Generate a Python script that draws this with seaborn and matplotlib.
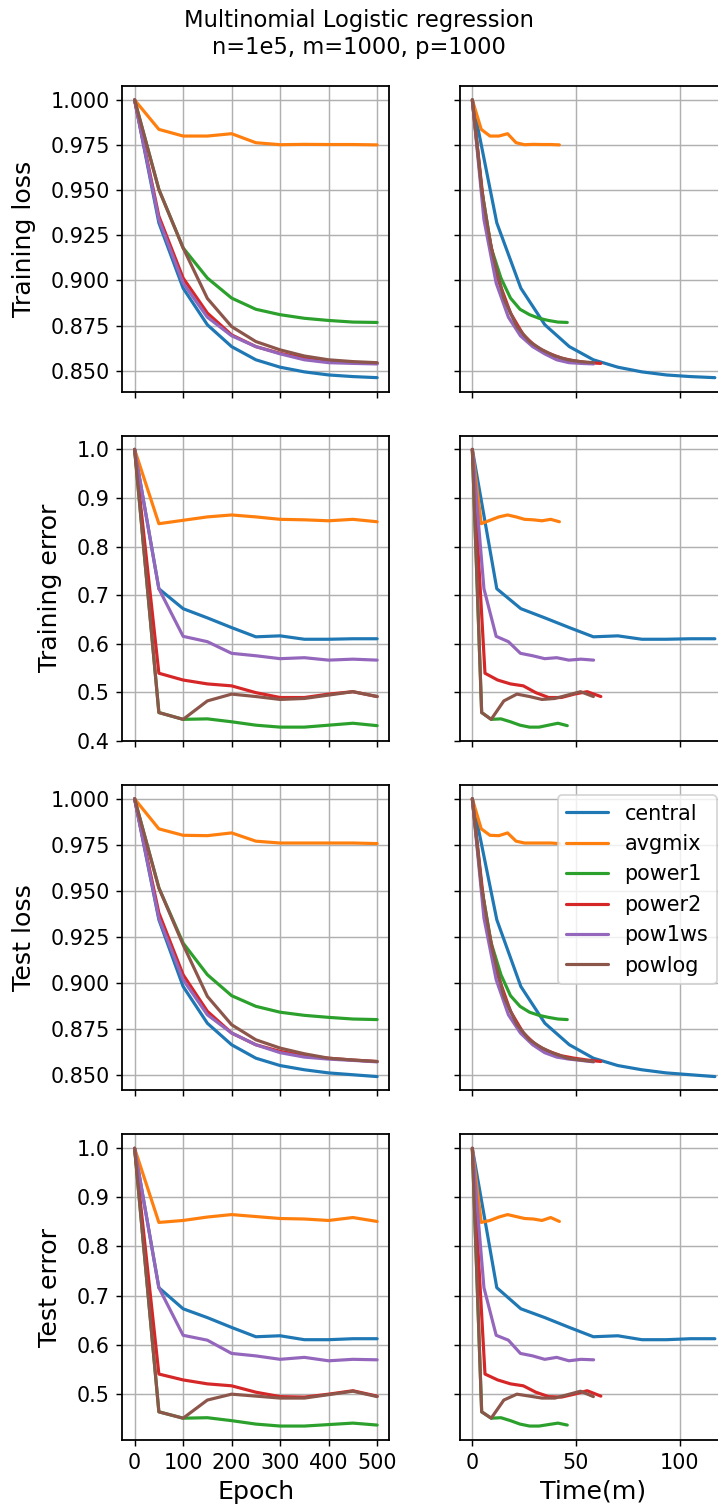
import numpy as np
import pandas as pd
import matplotlib
matplotlib.use("Agg")
import matplotlib.pyplot as plt
from matplotlib.ticker import MultipleLocator
import seaborn as sns

# ---------------- data ----------------
methods = ["central", "avgmix", "power1", "power2", "pow1ws", "powlog"]
epochs = [0, 50, 100, 150, 200, 250, 300, 350, 400, 450, 500]

# wall-clock time (minutes) at each evaluation point
time_central = [0, 11.8, 23.4, 35.0, 46.8, 58.4, 70.2, 81.8, 93.6, 105.2, 117.0]
time_avgmix = [0, 4.3, 8.5, 12.8, 17.0, 21.1, 25.2, 29.4, 33.6, 37.8, 42.0]
time_power1 = [0, 4.5, 9.1, 13.8, 18.4, 23.0, 27.6, 32.2, 36.7, 41.3, 45.8]
time_power2 = [0, 6.1, 12.2, 18.4, 24.6, 30.6, 36.8, 43.0, 49.2, 55.4, 62.0]
time_pow1ws = [0, 5.6, 11.5, 17.4, 23.2, 29.1, 34.9, 40.7, 46.6, 52.4, 58.5]
time_powlog = [0, 4.5, 9.1, 15.2, 21.5, 27.6, 33.6, 39.8, 46.0, 52.2, 58.4]

# Training loss
trloss_central = [1.0, 0.9319, 0.8957, 0.8754, 0.8633, 0.8560, 0.8519, 0.8493, 0.8476, 0.8467, 0.8461]
trloss_avgmix = [1.0, 0.9837, 0.9800, 0.9800, 0.9813, 0.9763, 0.9752, 0.9754, 0.9753, 0.9753, 0.9751]
trloss_power1 = [1.0, 0.9504, 0.9180, 0.9013, 0.8902, 0.8840, 0.8810, 0.8790, 0.8778, 0.8769, 0.8767]
trloss_power2 = [1.0, 0.9356, 0.9013, 0.8819, 0.8698, 0.8633, 0.8596, 0.8569, 0.8554, 0.8544, 0.8540]
trloss_pow1ws = [1.0, 0.9337, 0.8985, 0.8796, 0.8693, 0.8633, 0.8593, 0.8560, 0.8544, 0.8540, 0.8537]
trloss_powlog = [1.0, 0.9504, 0.9180, 0.8900, 0.8744, 0.8661, 0.8615, 0.8581, 0.8560, 0.8550, 0.8544]

# Training error
trerr_central = [1.0, 0.713, 0.672, 0.653, 0.633, 0.614, 0.616, 0.609, 0.609, 0.610, 0.610]
trerr_avgmix = [1.0, 0.847, 0.854, 0.861, 0.865, 0.861, 0.856, 0.855, 0.853, 0.856, 0.851]
trerr_power1 = [1.0, 0.458, 0.444, 0.445, 0.439, 0.432, 0.428, 0.428, 0.432, 0.436, 0.431]
trerr_power2 = [1.0, 0.539, 0.525, 0.517, 0.513, 0.499, 0.489, 0.489, 0.496, 0.501, 0.491]
trerr_pow1ws = [1.0, 0.713, 0.615, 0.604, 0.580, 0.575, 0.569, 0.571, 0.566, 0.568, 0.566]
trerr_powlog = [1.0, 0.458, 0.444, 0.482, 0.496, 0.491, 0.485, 0.487, 0.494, 0.501, 0.491]

# Test loss
teloss_central = [1.0, 0.9343, 0.8980, 0.8780, 0.8663, 0.8590, 0.8550, 0.8527, 0.8510, 0.8500, 0.8490]
teloss_avgmix = [1.0, 0.9837, 0.9802, 0.9800, 0.9815, 0.9770, 0.9760, 0.9760, 0.9760, 0.9760, 0.9757]
teloss_power1 = [1.0, 0.9516, 0.9216, 0.9044, 0.8930, 0.8872, 0.8840, 0.8823, 0.8812, 0.8803, 0.8800]
teloss_power2 = [1.0, 0.9380, 0.9044, 0.8845, 0.8727, 0.8663, 0.8627, 0.8603, 0.8590, 0.8580, 0.8572]
teloss_pow1ws = [1.0, 0.9352, 0.9017, 0.8826, 0.8727, 0.8663, 0.8620, 0.8596, 0.8585, 0.8578, 0.8570]
teloss_powlog = [1.0, 0.9516, 0.9207, 0.8926, 0.8772, 0.8690, 0.8645, 0.8614, 0.8590, 0.8580, 0.8572]

# Test error
teerr_central = [1.0, 0.716, 0.673, 0.655, 0.635, 0.616, 0.618, 0.610, 0.610, 0.612, 0.612]
teerr_avgmix = [1.0, 0.849, 0.853, 0.860, 0.865, 0.861, 0.857, 0.856, 0.853, 0.859, 0.851]
teerr_power1 = [1.0, 0.463, 0.450, 0.451, 0.445, 0.438, 0.434, 0.434, 0.437, 0.440, 0.436]
teerr_power2 = [1.0, 0.540, 0.528, 0.520, 0.516, 0.503, 0.494, 0.493, 0.499, 0.506, 0.495]
teerr_pow1ws = [1.0, 0.716, 0.619, 0.609, 0.582, 0.577, 0.570, 0.574, 0.567, 0.570, 0.569]
teerr_powlog = [1.0, 0.463, 0.450, 0.487, 0.499, 0.495, 0.491, 0.491, 0.498, 0.505, 0.494]

times = {"central": time_central, "avgmix": time_avgmix, "power1": time_power1,
         "power2": time_power2, "pow1ws": time_pow1ws, "powlog": time_powlog}
metrics = [
    ("Training loss", [trloss_central, trloss_avgmix, trloss_power1, trloss_power2, trloss_pow1ws, trloss_powlog]),
    ("Training error", [trerr_central, trerr_avgmix, trerr_power1, trerr_power2, trerr_pow1ws, trerr_powlog]),
    ("Test loss", [teloss_central, teloss_avgmix, teloss_power1, teloss_power2, teloss_pow1ws, teloss_powlog]),
    ("Test error", [teerr_central, teerr_avgmix, teerr_power1, teerr_power2, teerr_pow1ws, teerr_powlog]),
]

# ---------------- style ----------------
sns.set_style("ticks")
plt.rcParams.update({
    "font.family": ["DejaVu Sans"],
    "text.color": "black",
    "axes.labelcolor": "black",
    "axes.edgecolor": "black",
    "axes.linewidth": 1.0,
    "xtick.color": "black",
    "ytick.color": "black",
    "xtick.labelsize": 11.5,
    "ytick.labelsize": 11.5,
    "xtick.major.size": 3.5,
    "ytick.major.size": 3.5,
    "axes.labelsize": 14,
    "grid.color": "#b0b0b0",
    "grid.linewidth": 0.8,
    "lines.linewidth": 1.75,
})
palette = dict(zip(methods, sns.color_palette("tab10", 6)))

dpi = 130
fig, axes = plt.subplots(4, 2, figsize=(718 / dpi, 1510 / dpi), dpi=dpi,
                         sharex="col", sharey="row",
                         gridspec_kw=dict(left=0.1706, right=1.0125, top=0.943,
                                          bottom=0.0464, wspace=0.266, hspace=0.144))

for r, (label, series) in enumerate(metrics):
    rows = []
    for m, vals in zip(methods, series):
        for e, t, v in zip(epochs, times[m], vals):
            rows.append({"method": m, "epoch": e, "time": t, "value": v})
    df = pd.DataFrame(rows)
    axL, axR = axes[r, 0], axes[r, 1]
    sns.lineplot(data=df, x="epoch", y="value", hue="method", hue_order=methods,
                 palette=palette, estimator=None, sort=False, legend=False, ax=axL)
    show_leg = (r == 2)
    sns.lineplot(data=df, x="time", y="value", hue="method", hue_order=methods,
                 palette=palette, estimator=None, sort=False, legend=show_leg, ax=axR)
    for ax in (axL, axR):
        ax.grid(True)
        ax.set_xlabel("")
        ax.set_ylabel("")
        ax.tick_params(labelleft=(ax is axL))
    axL.set_ylabel(label, labelpad=8)
    if label.endswith("loss"):
        axL.yaxis.set_major_locator(MultipleLocator(0.025))
    else:
        axL.yaxis.set_major_locator(MultipleLocator(0.1))
    if show_leg:
        h, l = axR.get_legend_handles_labels()
        axR.legend(h, l, loc="upper right", fontsize=11.5)

axes[0, 0].xaxis.set_major_locator(MultipleLocator(100))
axes[0, 1].set_xticks([0, 50, 100])
axes[3, 0].set_xlabel("Epoch")
axes[3, 1].set_xlabel("Time(m)")

fig.suptitle("Multinomial Logistic regression\nn=1e5, m=1000, p=1000",
             fontsize=12.5, y=0.994, va="top")

fig.savefig("out.png", dpi=dpi)
